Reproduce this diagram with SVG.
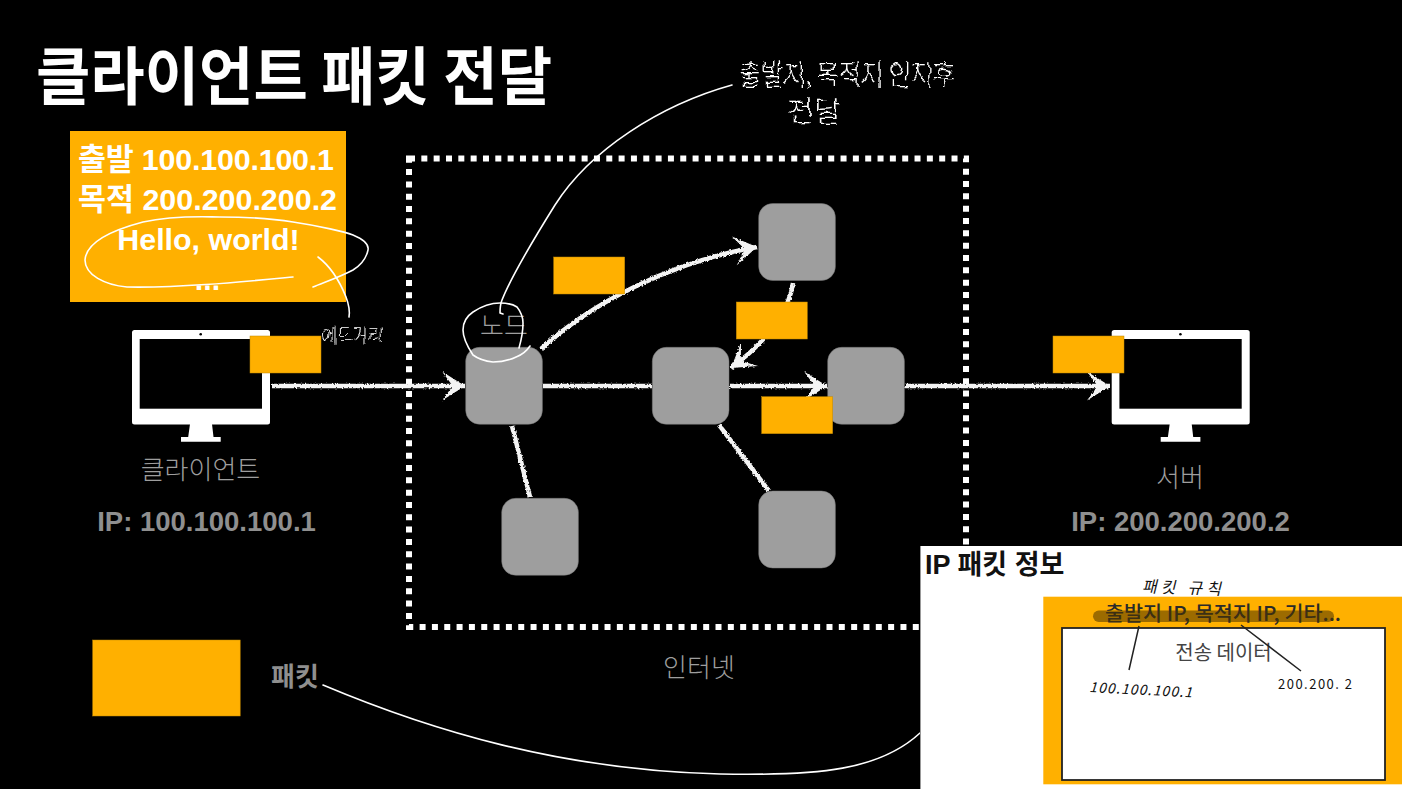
<svg xmlns="http://www.w3.org/2000/svg" width="1402" height="789" viewBox="0 0 1402 789">
<style>
text{font-family:"Liberation Sans","Noto Sans CJK KR",sans-serif}
.k{font-family:"Noto Sans CJK KR","Noto Sans",sans-serif}
.title{font-size:63px;font-weight:700;fill:#fff}
.info{font-size:30.4px;font-weight:700;fill:#fff;text-anchor:middle}
.lab{font-size:26px;font-weight:300;fill:#9e9e9e;text-anchor:middle}
.ip{font-size:27.5px;font-weight:700;fill:#8f8f8f;text-anchor:middle}
.node{fill:#9e9e9e;stroke:#777;stroke-width:.5}
.pkt{fill:#ffb000;stroke:#c08800;stroke-width:.5}
.chalk{fill:none;stroke:#f4f4f4;stroke-width:4.5}
.pen{fill:none;stroke:#fff;stroke-width:1.6;stroke-linecap:round;stroke-linejoin:round}
.hand{fill:#fff;font-weight:300}
.ink{fill:#111;font-weight:400}
</style>
<defs>
<filter id="rough" filterUnits="userSpaceOnUse" x="0" y="0" width="1402" height="789">
<feTurbulence type="fractalNoise" baseFrequency="0.55" numOctaves="2" seed="4" result="n"/>
<feDisplacementMap in="SourceGraphic" in2="n" scale="3.2" xChannelSelector="R" yChannelSelector="G"/>
</filter>
<filter id="wobble" filterUnits="userSpaceOnUse" x="0" y="0" width="1402" height="789">
<feTurbulence type="fractalNoise" baseFrequency="0.09" numOctaves="2" seed="7" result="n"/>
<feDisplacementMap in="SourceGraphic" in2="n" scale="7" xChannelSelector="R" yChannelSelector="G"/>
</filter>
<marker id="head" markerUnits="userSpaceOnUse" markerWidth="30" markerHeight="34" viewBox="-26 -17 30 34" refX="0" refY="0" orient="auto">
<path d="M-23,-14.5 L0,0 L-23,14.5 L-13,1 L-13,-1 Z" fill="#f4f4f4"/>
</marker>
<g id="monitor">
<rect x="132" y="330" width="138" height="94.500" rx="2.500" fill="#fff"/>
<rect x="139.700" y="339" width="122.300" height="69.700" fill="#000"/>
<circle cx="200.700" cy="334.200" r="1.300" fill="#000"/>
<path d="M190,424 H212 L213.500,437 H220.700 V441.700 H181 V437 H188.200 Z" fill="#fff"/>
</g>
</defs>
<rect width="1402" height="789" fill="#000"/>
<text class="title k" x="36" y="99" textLength="516" lengthAdjust="spacingAndGlyphs">클라이언트 패킷 전달</text>

<g id="internet-boundary">
<rect x="409" y="158.500" width="557" height="468.500" fill="none" stroke="#fff" stroke-width="6" stroke-dasharray="6 6.330"/>
<text class="lab k" x="699" y="677">인터넷</text>
</g>

<g id="client">
<use href="#monitor"/>
<text class="lab k" x="200.500" y="479" font-size="27">클라이언트</text>
<text class="ip" x="206.500" y="531">IP: 100.100.100.1</text>
</g>
<g id="server">
<use href="#monitor" x="979.700"/>
<text class="lab k" x="1180" y="487">서버</text>
<text class="ip" x="1180.500" y="531">IP: 200.200.200.2</text>
</g>

<g id="connectors" class="chalk" filter="url(#rough)">
<path d="M272,386 H465" marker-end="url(#head)"/>
<path d="M543,386 H652"/>
<path d="M730,386 H827" marker-end="url(#head)"/>
<path d="M905,386 H1110" marker-end="url(#head)"/>
<path d="M541,349 C590,304 670,262 757,247" marker-end="url(#head)"/>
<path d="M793,283 C790,306 772,338 731,368" marker-end="url(#head)"/>
<path d="M512,426 L530,497"/>
<path d="M719,425 L769,491"/>
</g>

<g id="node-1"><rect class="node" x="465.700" y="347.300" width="76.700" height="77" rx="14"/><text class="lab k" x="504" y="335">노드</text></g>
<g id="node-2"><rect class="node" x="652.300" y="347.300" width="76.700" height="77" rx="14"/></g>
<g id="node-3"><rect class="node" x="827.700" y="347.300" width="76.700" height="77" rx="14"/></g>
<g id="node-4"><rect class="node" x="758.700" y="203.500" width="76.700" height="77" rx="14"/></g>
<g id="node-5"><rect class="node" x="501.700" y="498.300" width="76.700" height="77" rx="14"/></g>
<g id="node-6"><rect class="node" x="758.700" y="491" width="76.700" height="77" rx="14"/></g>

<g id="packet-1"><rect class="pkt" x="250" y="336" width="71" height="37"/></g>
<g id="packet-2"><rect class="pkt" x="553.700" y="257" width="71" height="37"/></g>
<g id="packet-3"><rect class="pkt" x="736.300" y="302" width="71" height="37"/></g>
<g id="packet-4"><rect class="pkt" x="761.700" y="396.700" width="71" height="37"/></g>
<g id="packet-5"><rect class="pkt" x="1053" y="336" width="71" height="37"/></g>

<g id="packet-detail">
<rect x="70" y="131" width="276" height="171" fill="#ffb000"/>
<text class="info" x="78" y="170" style="text-anchor:start" textLength="256">출발 100.100.100.1</text>
<text class="info" x="78" y="210" style="text-anchor:start" textLength="259">목적 200.200.200.2</text>
<text class="info" x="208.500" y="250">Hello, world!</text>
<text class="info" x="207.500" y="290">...</text>
</g>

<g id="legend">
<rect class="pkt" x="92.700" y="640" width="147.500" height="76"/>
<text class="k" x="271" y="686" font-size="26" font-weight="700" fill="#8f8f8f">패킷</text>
</g>

<g id="annotations">
<path class="pen" d="M293,277 C240,282 180,288 127,287 C105,285 85,275 85,260 C86,245 105,232 143,222 C175,215 205,217 220,217 C250,217 275,219 293,222 C320,226 345,232 353,235 C365,240 369,245 368,250 C366,260 358,267 353,270 C340,277 325,282 313,287"/>
<path class="pen" d="M318,257 C330,266 340,282 346,297 C349,305 350,311 349,317"/>
<text class="hand k" x="322" y="342" font-size="18" textLength="61" lengthAdjust="spacingAndGlyphs" filter="url(#wobble)">에드거리</text>
<path class="pen" d="M530,346 C526,352 521,355 516.700,356.700 C508,361 500,362 493,362 C483,361 477,358 473,355 C467,346 463,338 463,330 C463,322 467,316 473,312 C482,306 492,303 500,303 C509,303 514,305 517,307 C521,312 523,317 523,323 C523,332 521,341 519,348"/>
<path class="pen" d="M732,85 C660,105 590,150 555,205 C530,245 510,280 502,300 C500,305 500,310 500,313 L503,314"/>
<text class="hand k" x="739" y="85" font-size="28" textLength="216" lengthAdjust="spacingAndGlyphs" filter="url(#wobble)">출발지, 목적지 인지후</text>
<text class="hand k" x="786" y="122" font-size="28" textLength="56" lengthAdjust="spacingAndGlyphs" filter="url(#wobble)">전달</text>
<path class="pen" d="M323,685 C430,730 560,770 720,774 C820,776 880,770 920,733"/>
</g>

<g id="ip-packet-panel">
<rect x="920" y="546" width="482" height="243" fill="#fff"/>
<path d="M920.500,546 V789" stroke="#999" stroke-width="1"/>
<text x="925" y="574" font-size="27" font-weight="700" fill="#111">IP 패킷 정보</text>
<rect x="1043.300" y="596.700" width="358.700" height="187.600" fill="#ffb000"/>
<rect x="1062" y="628" width="323" height="152" fill="#fff" stroke="#222" stroke-width="1.800"/>
<text class="k" x="1105" y="621" font-size="20" font-weight="500" fill="#2a2a2a" textLength="236" lengthAdjust="spacingAndGlyphs">출발지 IP, 목적지 IP, 기타...</text>
<rect x="1093" y="610.500" width="241" height="11.500" rx="5.700" fill="#4a3300" fill-opacity=".55"/>
<text class="k" x="1223.500" y="660" font-size="20" font-weight="400" fill="#444" text-anchor="middle">전송 데이터</text>
<path d="M1139,626 L1129,670 M1241,625 L1301,671" fill="none" stroke="#222" stroke-width="1.500"/>
<g transform="translate(1142 592) rotate(2) skewX(-12)"><text class="ink k" x="0" y="0" font-size="16" textLength="79">패킷 규칙</text></g>
<text class="ink k" x="1089" y="692" font-size="14" font-style="italic" transform="rotate(3 1089 692)" textLength="103" lengthAdjust="spacing">100.100.100.1</text>
<text class="ink k" x="1278" y="689" font-size="13" textLength="74" lengthAdjust="spacing">200.200. 2</text>
</g>
</svg>
